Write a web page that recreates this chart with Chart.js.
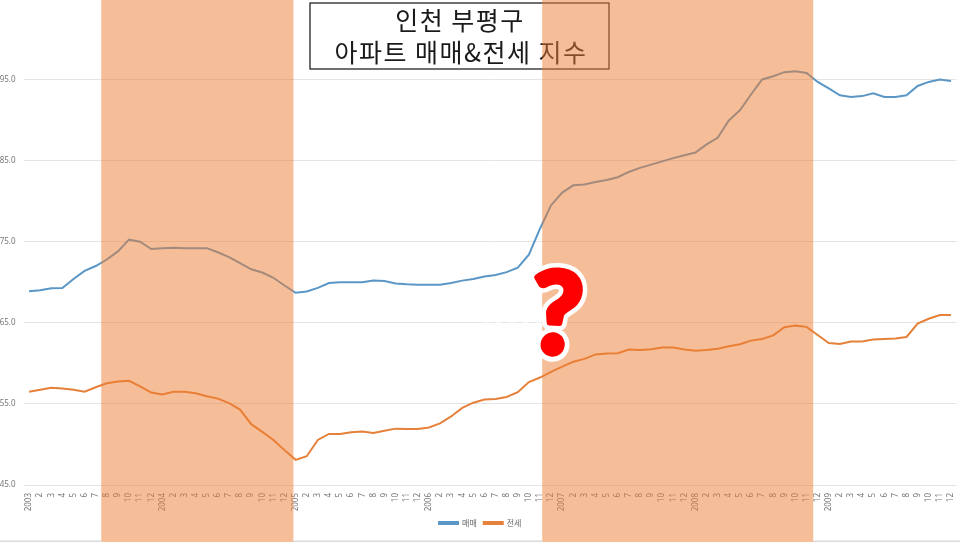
<!DOCTYPE html>
<html>
<head>
<meta charset="utf-8">
<script src="https://cdn.jsdelivr.net/npm/chart.js@4"></script>
<style>
    html, body { margin: 0; padding: 0; background: #fff; }
    canvas { display: block; filter: blur(0.35px); }
</style>
</head>
<body>
<canvas id="myChart" width="960" height="542"></canvas>
<script>
const labels = [
    "2003", "2", "3", "4", "5", "6", "7", "8", "9", "10", "11", "12",
    "2004", "2", "3", "4", "5", "6", "7", "8", "9", "10", "11", "12",
    "2005", "2", "3", "4", "5", "6", "7", "8", "9", "10", "11", "12",
    "2006", "2", "3", "4", "5", "6", "7", "8", "9", "10", "11", "12",
    "2007", "2", "3", "4", "5", "6", "7", "8", "9", "10", "11", "12",
    "2008", "2", "3", "4", "5", "6", "7", "8", "9", "10", "11", "12",
    "2009", "2", "3", "4", "5", "6", "7", "8", "9", "10", "11", "12"
];

const maemae = [
    68.9, 69.0, 69.25, 69.3, 70.4, 71.4, 72.0, 72.8, 73.8, 75.25, 75.0, 74.1,
    74.2, 74.25, 74.2, 74.2, 74.2, 73.7, 73.1, 72.35, 71.6, 71.2, 70.55, 69.6,
    68.7, 68.85, 69.3, 69.9, 70.0, 70.0, 70.0, 70.2, 70.15, 69.85, 69.75, 69.7,
    69.7, 69.7, 69.9, 70.2, 70.4, 70.7, 70.9, 71.25, 71.8, 73.4, 76.6, 79.5,
    81.05, 81.95, 82.05, 82.35, 82.6, 82.95, 83.6, 84.1, 84.5, 84.9, 85.3, 85.65,
    86.0, 87.0, 87.8, 89.95, 91.2, 93.15, 95.0, 95.4, 95.9, 96.0, 95.8, 94.7,
    93.9, 93.05, 92.85, 92.95, 93.3, 92.85, 92.85, 93.05, 94.2, 94.7, 95.0, 94.8
];

const jeonse = [
    56.5, 56.75, 57.0, 56.9, 56.75, 56.5, 57.05, 57.55, 57.75, 57.85, 57.15, 56.4,
    56.15, 56.5, 56.5, 56.3, 55.95, 55.65, 55.1, 54.3, 52.5, 51.55, 50.55, 49.3,
    48.1, 48.55, 50.55, 51.3, 51.3, 51.5, 51.6, 51.4, 51.7, 51.95, 51.9, 51.9,
    52.1, 52.6, 53.45, 54.5, 55.15, 55.55, 55.6, 55.85, 56.45, 57.7, 58.25, 58.95,
    59.6, 60.2, 60.55, 61.1, 61.2, 61.25, 61.7, 61.65, 61.75, 61.95, 61.95, 61.7,
    61.55, 61.65, 61.8, 62.1, 62.35, 62.8, 63.0, 63.45, 64.45, 64.65, 64.5, 63.5,
    62.5, 62.4, 62.7, 62.7, 62.95, 63.0, 63.05, 63.25, 64.9, 65.5, 65.95, 65.95
];

const yTicks = [45, 55, 65, 75, 85, 95];
const titleLines = ["인천 부평구", "아파트 매매&전세 지수"];
// category index where the shaded periods start and stop
const bands = [[6.5, 23.8], [46.2, 70.6]];

const krFont = '"Noto Sans CJK KR", "Noto Sans", sans-serif';

function xAt(scale, idx) {
    const a = scale.getPixelForValue(Math.floor(idx));
    const b = scale.getPixelForValue(Math.floor(idx) + 1);
    return a + (b - a) * (idx - Math.floor(idx));
}

// box goes under the shading, so part of it gets tinted like in the original
const overlayPlugin = {
    id: "overlay",
    afterLayout(chart) {
        // legend centres on the padded area, push it back to the middle
        chart.legend.left += 2;
        chart.legend.right += 2;
    },
    afterDatasetsDraw(chart) {
        const c = chart.ctx;
        const x = chart.scales.x;
        const y = chart.scales.y;

        c.save();
        c.fillStyle = "#fff";
        c.strokeStyle = "#111";
        c.lineWidth = 1.2;
        c.fillRect(310, 3, 299, 66);
        c.strokeRect(310, 3, 299, 66);
        c.fillStyle = "#1a1a1a";
        c.font = "25px " + krFont;
        c.letterSpacing = "1.5px";
        c.textAlign = "center";
        c.textBaseline = "middle";
        c.fillText(titleLines[0], 460, 20);
        c.fillText(titleLines[1], 461, 52);
        c.letterSpacing = "0px";

        c.fillStyle = "rgba(237,125,49,0.5)";
        bands.forEach((b) => {
            const left = xAt(x, b[0]);
            const right = xAt(x, b[1]);
            c.fillRect(left, 0, right - left, chart.height);
        });

        // white scraps on the 65 gridline left of the question mark
        const y65 = Math.round(y.getPixelForValue(65)) + 0.5;
        c.strokeStyle = "#fff";
        c.lineWidth = 2;
        c.setLineDash([6, 7]);
        c.beginPath();
        c.moveTo(483, y65);
        c.lineTo(541, y65);
        c.stroke();
        c.setLineDash([]);

        // question mark, the glyph's dot is too small so a circle goes on top
        c.translate(557, 316);
        c.rotate(0.05);
        c.font = '900 112px Lato, sans-serif';
        c.textAlign = "center";
        c.textBaseline = "middle";
        c.lineJoin = "round";
        c.lineWidth = 14;
        c.strokeStyle = "#fff";
        c.strokeText("?", 0, 0);
        c.fillStyle = "#fff";
        c.beginPath();
        c.arc(-3, 29, 17, 0, Math.PI * 2);
        c.fill();
        c.lineWidth = 5;
        c.strokeStyle = "#f00";
        c.strokeText("?", 0, 0);
        c.fillStyle = "#f00";
        c.fillText("?", 0, 0);
        c.beginPath();
        c.arc(-3, 29, 12, 0, Math.PI * 2);
        c.fill();
        c.restore();

        c.save();
        c.fillStyle = "#d9d9d9";
        c.fillRect(0, 540.5, 101, 1.5);
        c.fillRect(293, 540.5, 249, 1.5);
        c.fillRect(813, 540.5, 147, 1.5);
        c.restore();
    }
};

const data = {
    labels: labels,
    datasets: [
        {
            label: "매매",
            data: maemae,
            borderColor: "#5b97c6",
            backgroundColor: "#5b97c6",
            borderWidth: 2,
            pointRadius: 0,
            tension: 0
        },
        {
            label: "전세",
            data: jeonse,
            borderColor: "#e5813a",
            backgroundColor: "#e5813a",
            borderWidth: 2,
            pointRadius: 0,
            tension: 0
        }
    ]
};

const config = {
    type: "line",
    data: data,
    plugins: [overlayPlugin],
    options: {
        responsive: false,
        animation: false,
        layout: { padding: { left: 0, right: 3.5, top: 0, bottom: 5 } },
        plugins: {
            title: { display: false },
            tooltip: { enabled: false },
            legend: {
                position: "bottom",
                labels: {
                    boxWidth: 19,
                    boxHeight: 2,
                    padding: 7,
                    color: "#666",
                    font: { family: krFont, size: 8 }
                }
            }
        },
        scales: {
            x: {
                offset: true,
                grid: { display: false },
                border: { display: false },
                afterFit: (scale) => {
                    scale.height = 27;
                    scale.paddingLeft = 0;
                    scale.paddingRight = 0;
                },
                ticks: {
                    autoSkip: false,
                    minRotation: 90,
                    maxRotation: 90,
                    padding: 0,
                    color: "#777",
                    font: { family: "Noto Sans", size: 8 }
                }
            },
            y: {
                min: 45,
                max: 104.8,
                afterFit: (scale) => {
                    scale.width = 23.5;
                    scale.paddingTop = 0;
                    scale.paddingBottom = 0;
                },
                afterBuildTicks: (scale) => { scale.ticks = yTicks.map((v) => ({ value: v })); },
                grid: { color: "#e4e4e4", drawTicks: false },
                border: { display: false },
                ticks: {
                    padding: 8,
                    color: "#777",
                    font: { family: "Noto Sans", size: 8 },
                    callback: (v) => Number(v).toFixed(1)
                }
            }
        }
    }
};

const ctx = document.getElementById("myChart").getContext("2d");
const myChart = new Chart(ctx, config);
</script>
</body>
</html>
